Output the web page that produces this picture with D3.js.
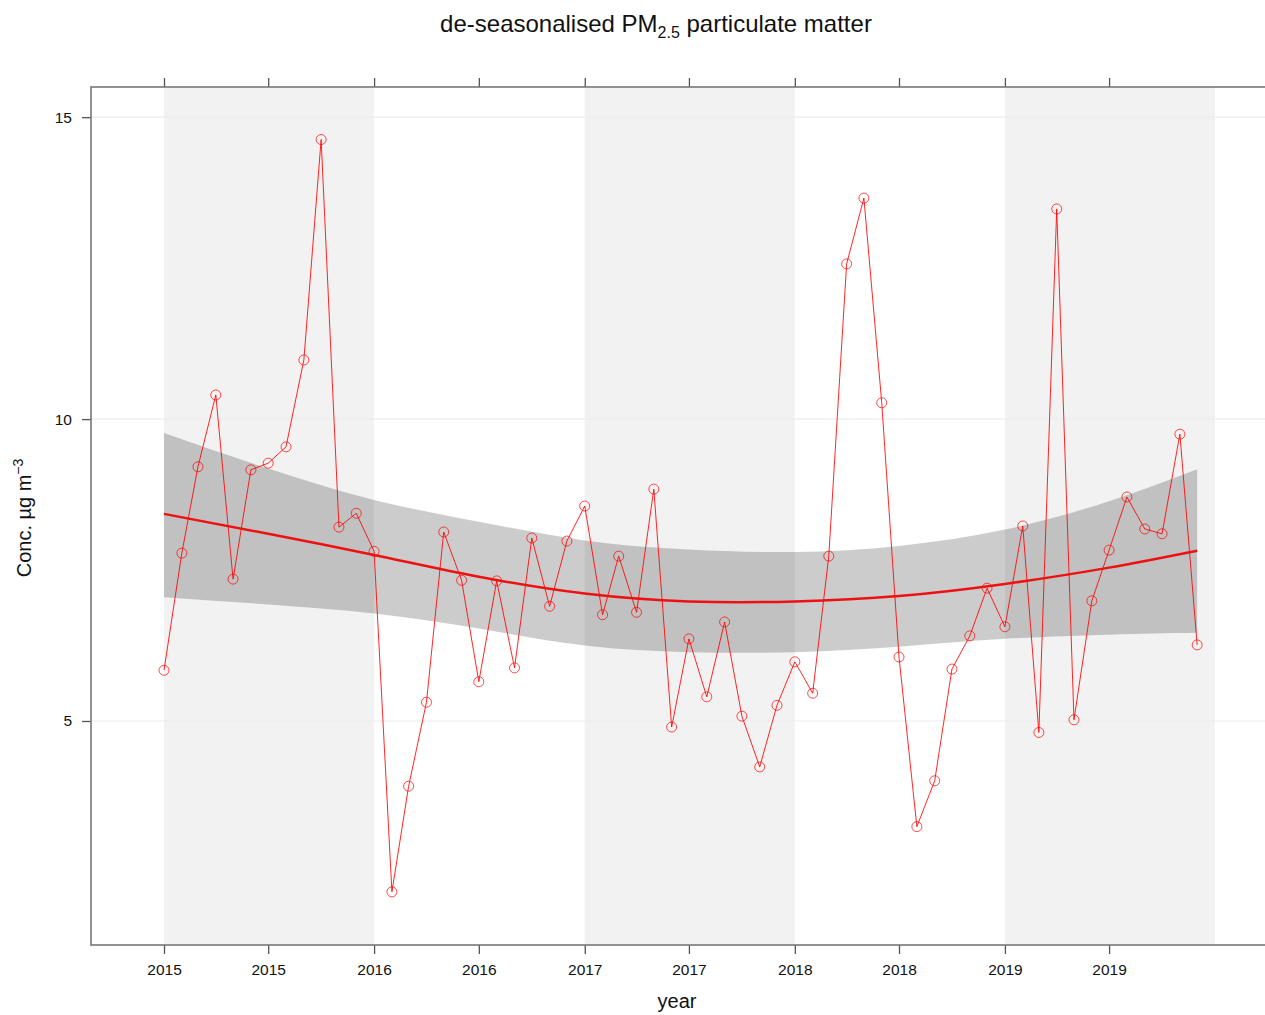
<!DOCTYPE html>
<html>
<head>
<meta charset="utf-8">
<script src="https://cdn.jsdelivr.net/npm/d3@7"></script>
<style>
  html, body { margin: 0; padding: 0; background: #fff; }
  svg { display: block; font-family: "Liberation Sans", Arial, Helvetica, sans-serif; }
</style>
</head>
<body>
<svg id="chart" width="1265" height="1015"></svg>
<script>
// ---- data ----
// monthly de-seasonalised PM2.5, Jan 2015 .. Dec 2019
const months = d3.range(60).map(i => new Date(2015, i, 1));
const conc = [
  5.84, 7.78, 9.21, 10.40, 7.35, 9.16, 9.27, 9.54, 10.98, 14.63, 8.21, 8.44,
  7.81, 2.17, 3.92, 5.31, 8.13, 7.33, 5.65, 7.32, 5.88, 8.03, 6.90, 7.98,
  8.56, 6.76, 7.73, 6.80, 8.84, 4.90, 6.36, 5.40, 6.64, 5.08, 4.24, 5.26,
  5.98, 5.46, 7.73, 12.57, 13.66, 10.27, 6.06, 3.25, 4.01, 5.86, 6.41, 7.20,
  6.56, 8.23, 4.81, 13.48, 5.02, 6.99, 7.83, 8.71, 8.18, 8.10, 9.75, 6.26
];
// smooth trend with confidence band, read at half-year points
const fitDates = [
  new Date(2015,0,1), new Date(2015,6,1), new Date(2016,0,1), new Date(2016,6,1),
  new Date(2017,0,1), new Date(2017,6,1), new Date(2018,0,1), new Date(2018,6,1),
  new Date(2019,0,1), new Date(2019,6,1), new Date(2019,11,1)
];
const fitMid   = [8.43, 8.10, 7.75, 7.39, 7.11, 6.98, 6.98, 7.07, 7.27, 7.54, 7.82];
const fitUpper = [9.77, 9.18, 8.66, 8.30, 7.99, 7.84, 7.80, 7.90, 8.17, 8.64, 9.17];
const fitLower = [7.05, 6.93, 6.78, 6.53, 6.25, 6.14, 6.14, 6.23, 6.36, 6.43, 6.46];
const shadedYears = [2015, 2017, 2019];
const yTicks = [5, 10, 15];

// ---- layout ----
const L = 91, R = 1265, T = 87, B = 945;

const svg = d3.select("#chart");

const x = d3.scaleTime()
  .domain([new Date(2015,0,1), new Date(2020,0,1)])
  .range([164, 1215]);
const y = d3.scaleLinear().domain([1.29, 15.5]).range([B, T]);

svg.append("defs").append("clipPath").attr("id", "clip")
  .append("rect").attr("x", L).attr("y", T).attr("width", R - L).attr("height", B - T);

const plot = svg.append("g").attr("clip-path", "url(#clip)");

// shaded alternate years
plot.selectAll("rect.band").data(shadedYears).join("rect")
  .attr("class", "band")
  .attr("x", d => x(new Date(d,0,1)))
  .attr("width", d => x(new Date(d+1,0,1)) - x(new Date(d,0,1)))
  .attr("y", T).attr("height", B - T)
  .attr("fill", "#f2f2f2");

// grid lines
plot.selectAll("line.grid").data(yTicks).join("line")
  .attr("x1", L).attr("x2", R)
  .attr("y1", d => y(d)).attr("y2", d => y(d))
  .attr("stroke", "#ececec").attr("stroke-width", 1.2);

// confidence band
const fitData = fitDates.map((d, i) => ({d, m: fitMid[i], u: fitUpper[i], l: fitLower[i]}));
plot.append("path").datum(fitData)
  .attr("d", d3.area().x(p => x(p.d)).y0(p => y(p.l)).y1(p => y(p.u)).curve(d3.curveNatural))
  .attr("fill", "#000").attr("fill-opacity", 0.2);

// data line
const series = months.map((d, i) => ({d, v: conc[i]}));
plot.append("path").datum(series)
  .attr("d", d3.line().x(p => x(p.d)).y(p => y(p.v)))
  .attr("fill", "none").attr("stroke", "#ff0000").attr("stroke-opacity", 0.85).attr("stroke-width", 1);

plot.selectAll("circle.pt").data(series).join("circle")
  .attr("class", "pt")
  .attr("cx", p => x(p.d)).attr("cy", p => y(p.v)).attr("r", 5)
  .attr("fill", "none").attr("stroke", "#ff0000").attr("stroke-opacity", 0.7).attr("stroke-width", 1);

// smooth trend
plot.append("path").datum(fitData)
  .attr("d", d3.line().x(p => x(p.d)).y(p => y(p.m)).curve(d3.curveNatural))
  .attr("fill", "none").attr("stroke", "#ee1111").attr("stroke-width", 2.5);

// ---- axes ----
const xTickVals = x.ticks(d3.timeMonth.every(6)).filter(d => d < new Date(2020,0,1));
const fmt = d3.timeFormat("%Y");

const axB = svg.append("g").attr("transform", `translate(0,${B})`)
  .call(d3.axisBottom(x).tickValues(xTickVals).tickFormat(fmt).tickSize(9).tickPadding(10));
const axT = svg.append("g").attr("transform", `translate(0,${T})`)
  .call(d3.axisTop(x).tickValues(xTickVals).tickFormat("").tickSize(9));
const axLft = svg.append("g").attr("transform", `translate(${L},0)`)
  .call(d3.axisLeft(y).tickValues(yTicks).tickSize(9).tickPadding(10));

[axB, axT, axLft].forEach(a => {
  a.select(".domain").remove();
  a.selectAll(".tick line").attr("stroke", "#555").attr("stroke-width", 1.3);
  a.selectAll(".tick text").attr("fill", "#111").style("font-size", "15.5px");
});

// frame
svg.append("rect").attr("x", L).attr("y", T).attr("width", R - L + 2).attr("height", B - T)
  .attr("fill", "none").attr("stroke", "#777").attr("stroke-width", 1.6);

// ---- titles ----
const title = svg.append("text").attr("x", 656).attr("y", 32)
  .attr("text-anchor", "middle").style("font-size", "24px").attr("fill", "#111");
title.append("tspan").text("de-seasonalised PM");
title.append("tspan").attr("dy", 6).style("font-size", "16px").text("2.5");
title.append("tspan").attr("dy", -6).text(" particulate matter");

svg.append("text").attr("x", 677).attr("y", 1008)
  .attr("text-anchor", "middle").style("font-size", "20px").attr("fill", "#111").text("year");

const yl = svg.append("text")
  .attr("transform", "translate(31,518) rotate(-90)")
  .attr("text-anchor", "middle").style("font-size", "20px").attr("fill", "#111");
yl.append("tspan").text("Conc. µg m");
yl.append("tspan").attr("dy", -8).style("font-size", "14px").text("−3");
</script>
</body>
</html>
